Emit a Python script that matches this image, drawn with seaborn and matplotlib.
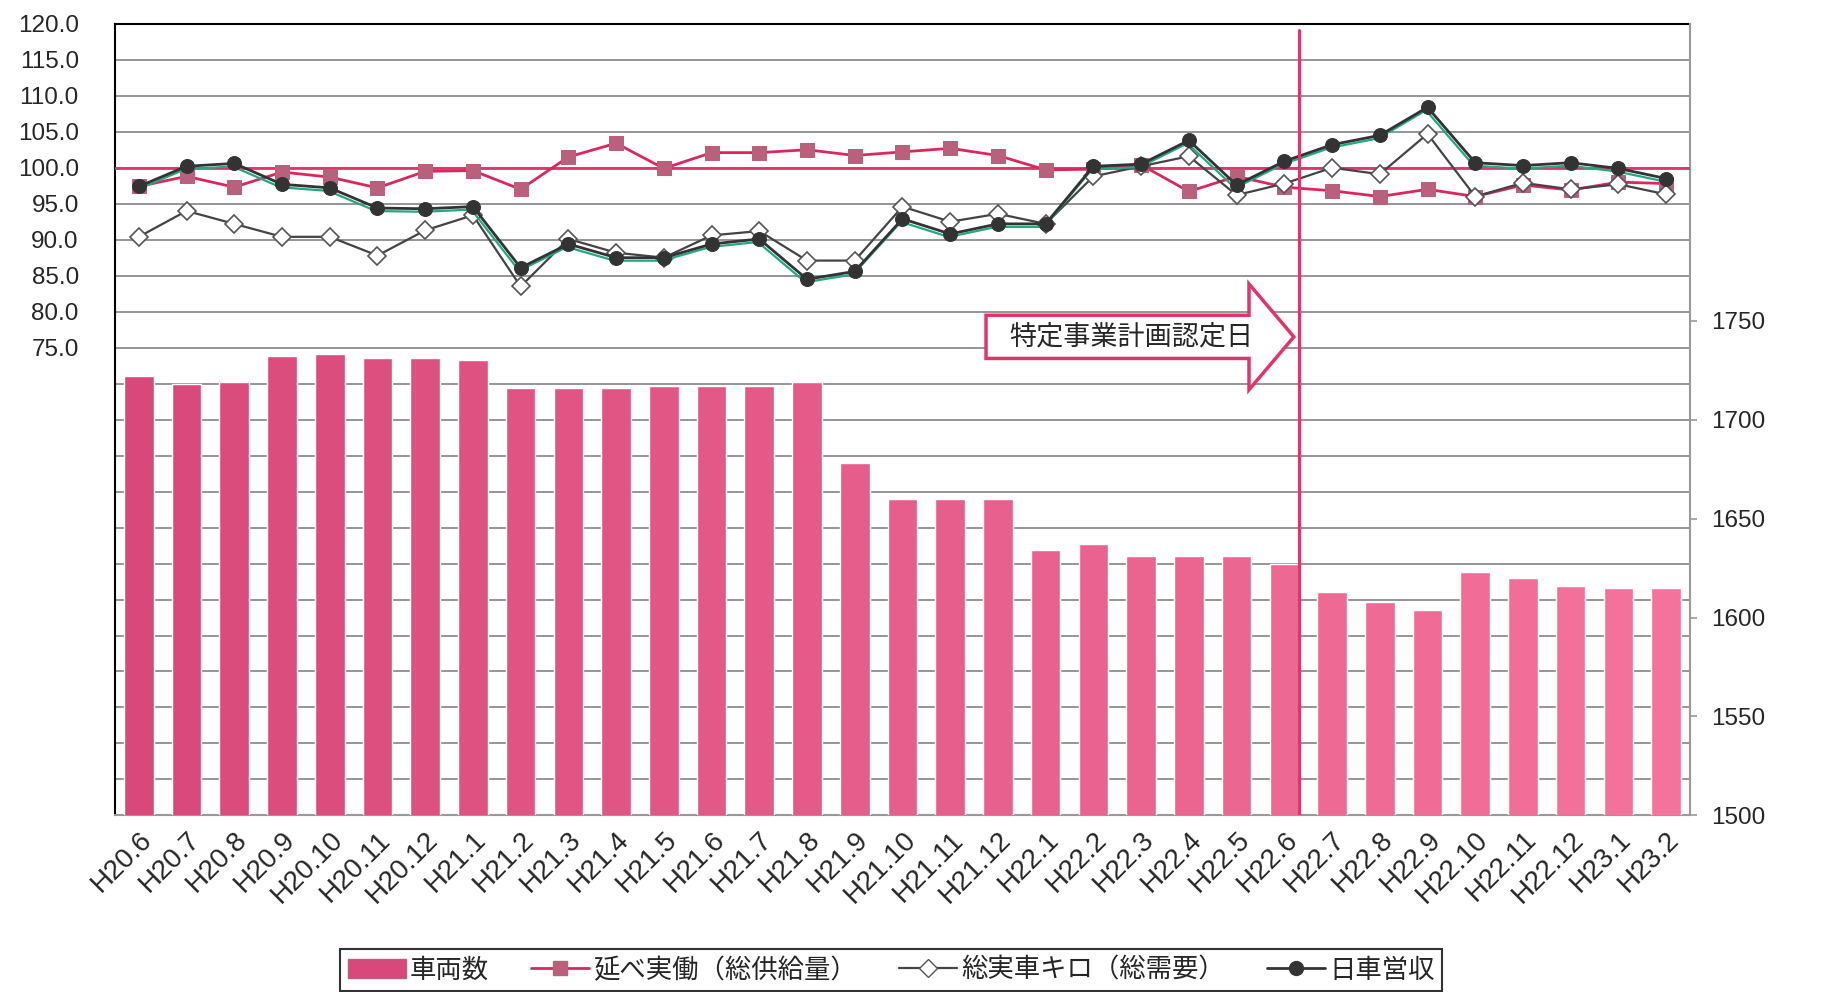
import numpy as np
import pandas as pd
import matplotlib
matplotlib.use('Agg')
import matplotlib.pyplot as plt
import matplotlib.transforms as mtransforms
from matplotlib.patches import FancyArrow, Patch
from matplotlib.lines import Line2D
import seaborn as sns

# data
months = ['H20.6', 'H20.7', 'H20.8', 'H20.9', 'H20.10', 'H20.11', 'H20.12',
          'H21.1', 'H21.2', 'H21.3', 'H21.4', 'H21.5', 'H21.6', 'H21.7', 'H21.8',
          'H21.9', 'H21.10', 'H21.11', 'H21.12',
          'H22.1', 'H22.2', 'H22.3', 'H22.4', 'H22.5', 'H22.6', 'H22.7', 'H22.8',
          'H22.9', 'H22.10', 'H22.11', 'H22.12', 'H23.1', 'H23.2']

# 車両数 (right axis)
vehicles = [1722, 1718, 1719, 1732, 1733, 1731, 1731, 1730, 1716, 1716, 1716,
            1717, 1717, 1717, 1719, 1678, 1660, 1660, 1660, 1634, 1637, 1631,
            1631, 1631, 1627, 1613, 1608, 1604, 1623, 1620, 1616, 1615, 1615]

# 延べ実働（総供給量）
supply = [97.4, 98.8, 97.3, 99.4, 98.7, 97.2, 99.5, 99.6, 97.0, 101.5, 103.4,
          99.9, 102.1, 102.1, 102.5, 101.7, 102.2, 102.7, 101.7, 99.7, 99.8,
          100.4, 96.7, 98.8, 97.3, 96.8, 96.0, 97.0, 96.0, 97.6, 96.9, 98.0, 97.8]

# 総実車キロ（総需要）
demand = [90.4, 94.0, 92.2, 90.4, 90.4, 87.8, 91.3, 93.4, 83.5, 90.1, 88.2,
          87.5, 90.6, 91.2, 87.1, 87.1, 94.6, 92.5, 93.6, 92.2, 98.8, 100.2,
          101.6, 96.2, 97.8, 100.0, 99.1, 104.7, 96.0, 97.9, 97.0, 97.7, 96.3]

# 日車営収
revenue = [97.4, 100.2, 100.6, 97.7, 97.2, 94.4, 94.3, 94.6, 86.1, 89.4, 87.5,
           87.5, 89.4, 90.1, 84.5, 85.6, 92.9, 90.8, 92.2, 92.2, 100.2, 100.5,
           103.8, 97.6, 100.9, 103.2, 104.5, 108.4, 100.7, 100.3, 100.7, 99.9, 98.5]

legend_labels = ['車両数', '延べ実働（総供給量）', '総実車キロ（総需要）', '日車営収']
event_label = '特定事業計画認定日'
event_x = 24.3  # between H22.6 and H22.7

PINK = '#e2336a'
BAR_A, BAR_B = '#d9487a', '#f4729b'
SUPPLY_LINE, SUPPLY_MARK = '#d8285e', '#b8607c'
DARK = '#333333'

sns.set_style('white')
plt.rcParams['font.family'] = ['Liberation Sans', 'Noto Sans CJK JP']

fig = plt.figure(figsize=(18.45, 9.92), dpi=100)
ax = fig.add_axes([0.0623, 0.178, 0.8537, 0.798])
ax2 = ax.twinx()
ax3 = ax.twinx()

pos = np.arange(len(months))
df = pd.DataFrame({'month': months, 'vehicles': vehicles})

# bars on the right axis
bar_pal = sns.blend_palette([BAR_A, BAR_B], len(months))
sns.barplot(data=df, x='month', y='vehicles', hue='month', order=months,
            palette=bar_pal, legend=False, width=0.62, saturation=1, ax=ax2)
ax2.set_ylim(1500, 1900)
ax2.set_yticks(np.arange(1500, 1751, 50))
ax2.set_ylabel('')
ax2.set_xlabel('')
ax2.tick_params(axis='y', length=5, color='#999999', width=1.2, pad=10, labelsize=17.5)

# left axis: grid + labels
left_ticks = np.arange(10, 121, 5)
ax.set_ylim(10, 120)
ax.set_yticks(left_ticks)
ax.set_yticklabels([f'{v:.1f}' if v >= 75 else '' for v in left_ticks])
ax.grid(axis='y', color='#8c8c8c', lw=1.3)
ax.tick_params(axis='y', length=0, pad=26, labelsize=17.5)

# lines on a third layer above the bars
ax3.set_ylim(10, 120)
ax3.yaxis.set_visible(False)
ax3.axhline(100, color=PINK, lw=2, zorder=1)

sns.lineplot(x=pos, y=supply, ax=ax3, color=SUPPLY_LINE, linewidth=2,
             marker='s', markersize=10, markerfacecolor=SUPPLY_MARK,
             markeredgecolor=SUPPLY_MARK, zorder=3)
sns.lineplot(x=pos, y=demand, ax=ax3, color='#444444', linewidth=1.6,
             marker='D', markersize=9, markerfacecolor='white',
             markeredgecolor='#555555', markeredgewidth=1.2, zorder=4)
shift = mtransforms.offset_copy(ax3.transData, fig=fig, x=-1.5, y=-3, units='dots')
sns.lineplot(x=pos, y=revenue, ax=ax3, color='#23a884', linewidth=1.6,
             transform=shift, zorder=4)
sns.lineplot(x=pos, y=revenue, ax=ax3, color=DARK, linewidth=2,
             marker='o', markersize=10, markerfacecolor=DARK,
             markeredgecolor=DARK, zorder=5)

# certification date marker and arrow
ax3.axvline(event_x, ymax=0.992, color=PINK, lw=2.2, zorder=7)
arrow = FancyArrow(17.75, 76.5, event_x - 0.1 - 17.75, 0, width=6.0,
                   head_width=14.7, head_length=0.94, length_includes_head=True,
                   fc='white', ec=PINK, lw=2.5, zorder=6)
ax3.add_patch(arrow)
ax3.text(20.8, 76.4, event_label, ha='center', va='center', fontsize=19.5, zorder=8)

# x axis
ax.set_xlim(-0.5, len(months) - 0.5)
ax.set_xticks(pos)
ax.set_xticklabels(months, rotation=45, ha='right', rotation_mode='anchor')
ax.tick_params(axis='x', length=0, pad=8, labelsize=20)

# spines
ax.spines['left'].set_color('black')
ax.spines['left'].set_linewidth(1.5)
ax.spines['top'].set_color('black')
ax.spines['top'].set_linewidth(1.5)
ax.spines['bottom'].set_color('#999999')
ax.spines['bottom'].set_linewidth(1.5)
ax.spines['right'].set_visible(False)
for s in ['left', 'top', 'bottom']:
    ax2.spines[s].set_visible(False)
ax2.spines['right'].set_color('#999999')
ax2.spines['right'].set_linewidth(1.5)
for s in ax3.spines.values():
    s.set_visible(False)

# legend along the bottom edge
handles = [
    Patch(facecolor=BAR_A, edgecolor=SUPPLY_MARK),
    Line2D([], [], color=SUPPLY_LINE, lw=2, marker='s', markersize=10,
           markerfacecolor=SUPPLY_MARK, markeredgecolor=SUPPLY_MARK),
    Line2D([], [], color='#444444', lw=1.6, marker='D', markersize=9,
           markerfacecolor='white', markeredgecolor='#555555'),
    Line2D([], [], color=DARK, lw=2, marker='o', markersize=10,
           markerfacecolor=DARK, markeredgecolor=DARK),
]
leg = fig.legend(handles, legend_labels, loc='upper center',
                 bbox_to_anchor=(0.483, 0.043), ncol=4, frameon=True,
                 fancybox=False, edgecolor='black', fontsize=19,
                 handlelength=2.2, handletextpad=0.15, columnspacing=1.6,
                 borderpad=0.3, borderaxespad=0)
leg.get_frame().set_linewidth(1.5)

fig.savefig('out.png', dpi=100)
